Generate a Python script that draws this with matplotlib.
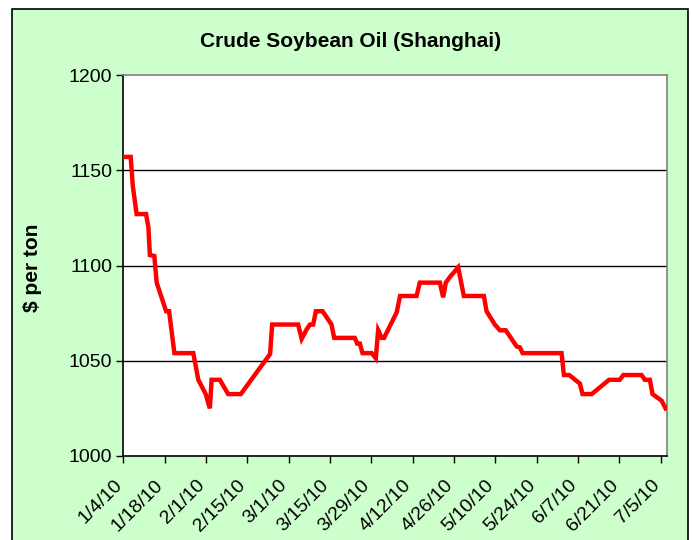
import numpy as np
import pandas as pd
import matplotlib
matplotlib.use('Agg')
import matplotlib.pyplot as plt
import matplotlib.transforms as mtransforms
from matplotlib.patches import Rectangle

# data: day offsets from 1/4/10 and price ($/ton)
start_date = pd.Timestamp('2010-01-04')
days = [0, 2.5, 3.2, 4.5, 7.7, 8.5, 9.0, 10.5, 11.3, 14.5, 15.5, 17.3, 23.7,
        25.4, 27.9, 29.3, 29.9, 32.7, 35.5, 39.8, 48.5, 49.7, 50.4, 59.2,
        60.4, 62.1, 63.2, 64.3, 65.2, 67.5, 70.5, 71.4, 78.4, 79.2, 80.1,
        81.0, 84.1, 85.5, 86.3, 87.5, 88.3, 92.6, 93.7, 99.3, 100.4, 107.2,
        108.3, 109.2, 110.6, 113.4, 115.3, 122.1, 123.0, 125.8, 127.5, 129.5,
        133.2, 134.3, 135.2, 148.4, 149.2, 151.0, 154.6, 155.5, 158.6, 164.5,
        168.1, 169.3, 175.5, 176.6, 178.3, 179.2, 182.3, 183.6]
price = [1157, 1157, 1142, 1127, 1127, 1120, 1105.5, 1105, 1091, 1076, 1076,
         1054, 1054, 1040, 1032.5, 1025, 1040, 1040, 1032.5, 1032.5, 1051,
         1053.5, 1069, 1069, 1061.5, 1066.5, 1069, 1069, 1076, 1076, 1069,
         1062, 1062, 1059, 1059, 1054, 1054, 1051.3, 1066, 1062, 1062, 1075.5,
         1084, 1084, 1091, 1091, 1083.3, 1091, 1094, 1099, 1084, 1084, 1076,
         1069, 1066, 1066, 1057.5, 1057, 1054, 1054, 1042.5, 1042.5, 1038,
         1032.5, 1032.5, 1040, 1040, 1042.5, 1042.5, 1040, 1040, 1032.5, 1029,
         1025]
y_ticks = [1000, 1050, 1100, 1150, 1200]

dates = start_date + pd.to_timedelta(days, unit='D')
tick_dates = pd.date_range('2010-01-04', '2010-07-05', freq='14D')
tick_labels = [f'{d.month}/{d.day}/{d.strftime("%y")}' for d in tick_dates]

plt.rcParams['font.family'] = ['Liberation Sans', 'DejaVu Sans']

W, H = 692, 540
fig = plt.figure(figsize=(W / 100, H / 100), dpi=100)
fig.patch.set_facecolor('white')
# green chart area with black border
fig.patches.append(Rectangle((12 / W, -0.02), (688 - 12) / W, 1.02 - 9 / H,
                             transform=fig.transFigure, facecolor='#CCFFCC',
                             edgecolor='black', linewidth=1.2, zorder=-10))

ax = fig.add_axes([123.3 / W, (H - 456) / H, (666.7 - 123.3) / W, (456 - 75) / H])
ax.set_facecolor('white')

ax.plot(dates, price, color='#FF0000', linewidth=3.2, solid_joinstyle='miter', zorder=3)

ax.set_ylim(1000, 1200)
ax.set_xlim(start_date, start_date + pd.Timedelta(days=184))
ax.set_yticks(y_ticks)
ax.set_yticklabels([str(v) for v in y_ticks], fontsize=14)
ax.set_xticks(tick_dates)
ax.set_xticklabels(tick_labels, rotation=45, ha='right', va='top',
                   rotation_mode='anchor', fontsize=14)
ax.tick_params(axis='both', direction='out', length=5, width=1, color='black')
ax.tick_params(axis='x', pad=4)
ax.tick_params(axis='y', pad=3)

# shift date labels a little left/down like the original
shift = mtransforms.ScaledTranslation(-10 / 100, -8 / 100, fig.dpi_scale_trans)
for lbl in ax.get_xticklabels():
    lbl.set_transform(lbl.get_transform() + shift)

for v in y_ticks[1:-1]:
    ax.axhline(v, color='black', linewidth=1, zorder=1)

ax.spines['left'].set_color('black')
ax.spines['bottom'].set_color('black')
ax.spines['top'].set_color('#808080')
ax.spines['right'].set_color('#808080')
for s in ax.spines.values():
    s.set_linewidth(1.2)

fig.text(351 / W, 1 - 42 / H, 'Crude Soybean Oil (Shanghai)', ha='center',
         va='center', fontsize=15, fontweight='bold')
fig.text(33 / W, 1 - 268 / H, '$ per ton', ha='center', va='center',
         rotation=90, fontsize=15, fontweight='bold')

fig.savefig('out.png', dpi=100)
